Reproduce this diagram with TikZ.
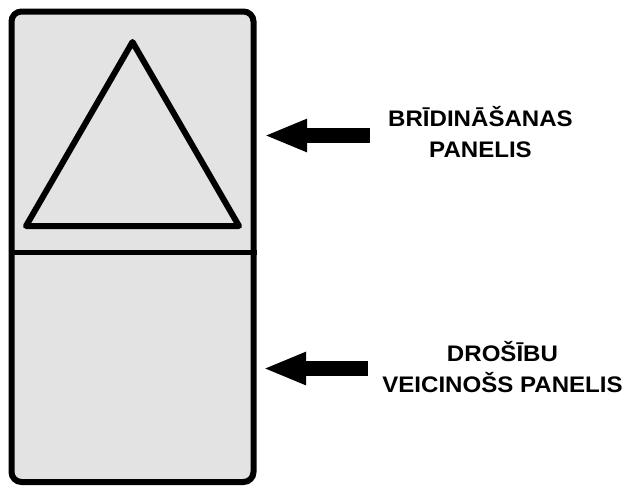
\documentclass[tikz,border=0pt]{standalone}
\usepackage{fontspec}
\setmainfont{Liberation Sans}
\newfontfamily\labelfont[FakeStretch=1.07]{Liberation Sans}
\usepackage{tikz}
\usetikzlibrary{arrows.meta}

\definecolor{panelgray}{HTML}{E3E3E3}

\begin{document}
\begin{tikzpicture}[
        x=1pt, y=-1pt,
        panel/.style={draw=black, line width=6pt, rounded corners=10pt, fill=panelgray, minimum width=242pt, minimum height=470.5pt, inner sep=0pt},
        divider/.style={draw=black, line width=4.5pt},
        sign/.style={draw=black, line width=6pt, line join=round},
        blockarrow/.style={draw=black, line width=15pt, -{Triangle[length=43pt, width=30pt]}},
        panelLabel/.style={font=\labelfont\bfseries\fontsize{22.5}{31}\selectfont, align=center, inner sep=0pt}
      ]
      \useasboundingbox (0,0) rectangle (626,488);

      \node[panel] (panel) at (132.5,246.75) {};
      \draw[divider] (panel.west |- 0,252.5) -- (panel.east |- 0,252.5);
      \draw[sign] (132.5,42) -- (239,226) -- (26,226) -- cycle;

      \node[panelLabel] (warnLabel) at (480.5,132) {BRĪDINĀŠANAS\\PANELIS};
      \node[panelLabel] (safetyLabel) at (502.5,367) {DROŠĪBU\\VEICINOŠS PANELIS};

      \coordinate (warnTail) at (370,135.5);
      \coordinate (warnTip) at (264,135.5);
      \coordinate (safetyTail) at (368,368.5);
      \coordinate (safetyTip) at (263,368.5);

      \draw[blockarrow] (warnTail) -- (warnTip);
      \draw[blockarrow] (safetyTail) -- (safetyTip);
    \end{tikzpicture}
\end{document}
